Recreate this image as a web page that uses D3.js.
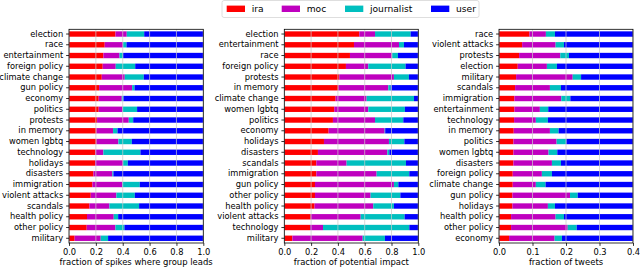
<!DOCTYPE html>
<html>
<head>
<meta charset="utf-8">
<script src="https://cdn.jsdelivr.net/npm/d3@7"></script>
<style>
  body { margin: 0; background: #fff; }
  svg { display: block; font-family: "DejaVu Sans", sans-serif; }
</style>
</head>
<body>
<svg width="640" height="267"></svg>
<script>
const WIDTH = 640;
const HEIGHT = 267;
const TOP = 29.3;
const BOTTOM = 243;
const TICK = 2.9;
const FONT = 8.3;

const groups = ["ira", "moc", "journalist", "user"];
const colors = ["#ff0000", "#bf00bf", "#00bfbf", "#0000ff"];

// panel 1: fraction of spikes where group leads
const leadCats = ["election", "race", "entertainment", "foreign policy", "climate change", "gun policy", "economy", "politics", "protests", "in memory", "women lgbtq", "technology", "holidays", "disasters", "immigration", "violent attacks", "scandals", "health policy", "other policy", "military"];
const leadIra = [0.346, 0.266, 0.256, 0.251, 0.244, 0.224, 0.221, 0.221, 0.209, 0.204, 0.204, 0.197, 0.194, 0.182, 0.174, 0.162, 0.152, 0.134, 0.132, 0.042];
const leadMoc = [0.084, 0.137, 0.120, 0.097, 0.171, 0.246, 0.172, 0.179, 0.236, 0.124, 0.164, 0.059, 0.209, 0.141, 0.224, 0.191, 0.149, 0.199, 0.214, 0.194];
const leadJour = [0.130, 0.025, 0.027, 0.145, 0.142, 0.018, 0.012, 0.107, 0.033, 0.033, 0.100, 0.276, 0.035, 0.008, 0.129, 0.137, 0.221, 0.033, 0.067, 0.055];
const leadUser = [0.440, 0.572, 0.597, 0.507, 0.443, 0.512, 0.595, 0.493, 0.522, 0.639, 0.532, 0.468, 0.562, 0.669, 0.473, 0.510, 0.478, 0.634, 0.587, 0.709];

// panel 2: fraction of potential impact
const impactCats = ["election", "entertainment", "race", "foreign policy", "protests", "in memory", "climate change", "women lgbtq", "politics", "economy", "holidays", "disasters", "scandals", "immigration", "gun policy", "other policy", "health policy", "violent attacks", "technology", "military"];
const impactIra = [0.560, 0.520, 0.490, 0.460, 0.410, 0.403, 0.383, 0.373, 0.363, 0.331, 0.296, 0.251, 0.239, 0.239, 0.229, 0.229, 0.226, 0.197, 0.192, 0.060];
const impactMoc = [0.117, 0.336, 0.316, 0.167, 0.408, 0.373, 0.231, 0.254, 0.314, 0.418, 0.485, 0.518, 0.226, 0.450, 0.589, 0.415, 0.438, 0.373, 0.097, 0.525];
const impactJour = [0.266, 0.037, 0.042, 0.278, 0.112, 0.018, 0.354, 0.273, 0.211, 0.004, 0.115, 0.015, 0.443, 0.244, 0.033, 0.222, 0.154, 0.328, 0.644, 0.166];
const impactUser = [0.057, 0.107, 0.152, 0.095, 0.070, 0.206, 0.032, 0.100, 0.112, 0.247, 0.104, 0.216, 0.092, 0.067, 0.149, 0.134, 0.182, 0.102, 0.067, 0.249];

// panel 3: fraction of tweets
const tweetCats = ["race", "violent attacks", "protests", "election", "military", "scandals", "immigration", "entertainment", "technology", "in memory", "politics", "women lgbtq", "disasters", "foreign policy", "climate change", "gun policy", "holidays", "health policy", "other policy", "economy"];
const tweetIra = [0.091, 0.069, 0.060, 0.056, 0.051, 0.048, 0.046, 0.046, 0.045, 0.044, 0.043, 0.043, 0.043, 0.041, 0.041, 0.040, 0.040, 0.036, 0.036, 0.030];
const tweetMoc = [0.049, 0.100, 0.123, 0.087, 0.169, 0.104, 0.140, 0.076, 0.065, 0.108, 0.129, 0.105, 0.115, 0.087, 0.069, 0.172, 0.106, 0.133, 0.169, 0.136];
const tweetJour = [0.027, 0.025, 0.026, 0.030, 0.025, 0.033, 0.027, 0.025, 0.036, 0.026, 0.029, 0.026, 0.027, 0.030, 0.029, 0.023, 0.021, 0.025, 0.027, 0.022];
const tweetUser = [0.833, 0.806, 0.791, 0.827, 0.755, 0.815, 0.787, 0.853, 0.854, 0.822, 0.799, 0.826, 0.815, 0.842, 0.861, 0.765, 0.833, 0.806, 0.768, 0.812];

const panels = [
  { x0: 69, x1: 203.3, cats: leadCats, series: [leadIra, leadMoc, leadJour, leadUser],
    max: 1.0, ticks: [0, 0.2, 0.4, 0.6, 0.8, 1.0], label: "fraction of spikes where group leads" },
  { x0: 284.3, x1: 418.3, cats: impactCats, series: [impactIra, impactMoc, impactJour, impactUser],
    max: 1.0, ticks: [0, 0.2, 0.4, 0.6, 0.8, 1.0], label: "fraction of potential impact" },
  { x0: 499, x1: 633, cats: tweetCats, series: [tweetIra, tweetMoc, tweetJour, tweetUser],
    max: 0.4, ticks: [0, 0.1, 0.2, 0.3, 0.4], label: "fraction of tweets" }
];

const svg = d3.select("svg");

panels.forEach((p, pi) => {
  const rows = p.cats.map((c, i) => {
    const r = { cat: c };
    groups.forEach((g, gi) => r[g] = p.series[gi][i]);
    return r;
  });
  const stacked = d3.stack().keys(groups)(rows);

  const x = d3.scaleLinear().domain([0, p.max]).range([p.x0, p.x1]);
  const y = d3.scaleBand().domain(p.cats).range([TOP, BOTTOM])
    .paddingInner(0.5).paddingOuter(0.19);

  svg.append("clipPath").attr("id", "clip" + pi)
    .append("rect")
    .attr("x", p.x0).attr("y", TOP)
    .attr("width", p.x1 - p.x0).attr("height", BOTTOM - TOP);

  const g = svg.append("g").attr("clip-path", `url(#clip${pi})`);

  g.selectAll("g.layer")
    .data(stacked)
    .enter()
    .append("g")
    .attr("fill", (d, i) => colors[i])
    .selectAll("rect")
    .data(d => d)
    .enter()
    .append("rect")
    .attr("x", d => x(d[0]))
    .attr("width", d => Math.max(0, x(d[1]) - x(d[0])))
    .attr("y", d => y(d.data.cat))
    .attr("height", y.bandwidth());

  // grid on top of bars
  g.selectAll("line.grid")
    .data(p.ticks)
    .enter()
    .append("line")
    .attr("x1", d => x(d)).attr("x2", d => x(d))
    .attr("y1", TOP).attr("y2", BOTTOM)
    .attr("stroke", "#c8c8c8")
    .attr("stroke-opacity", 0.8)
    .attr("stroke-width", 0.9);

  const axisY = svg.append("g")
    .attr("transform", `translate(${p.x0},0)`)
    .call(d3.axisLeft(y).tickSize(TICK).tickPadding(TICK).tickSizeOuter(0));
  const axisX = svg.append("g")
    .attr("transform", `translate(0,${BOTTOM})`)
    .call(d3.axisBottom(x).tickValues(p.ticks).tickFormat(d3.format(".1f"))
      .tickSize(TICK).tickPadding(TICK).tickSizeOuter(0));

  [axisX, axisY].forEach(a => {
    a.select(".domain").remove();
    a.selectAll("line").attr("stroke-width", 0.8);
    a.selectAll("text").attr("font-size", FONT).attr("fill", "#000")
      .attr("font-family", "DejaVu Sans, sans-serif");
  });

  svg.append("rect")
    .attr("x", p.x0).attr("y", TOP)
    .attr("width", p.x1 - p.x0).attr("height", BOTTOM - TOP)
    .attr("fill", "none").attr("stroke", "#000").attr("stroke-width", 0.8);

  svg.append("text")
    .attr("x", (p.x0 + p.x1) / 2).attr("y", 265.2)
    .attr("text-anchor", "middle")
    .attr("font-size", 8.45)
    .text(p.label);
});

// legend
const legend = svg.append("g").attr("id", "legend");
legend.append("rect")
  .attr("x", 222).attr("y", 0.5)
  .attr("width", 257).attr("height", 17)
  .attr("rx", 2)
  .attr("fill", "#fff").attr("stroke", "#d6d6d6").attr("stroke-width", 0.8);
const legendX = [226.7, 281.7, 345, 431];
groups.forEach((name, i) => {
  const item = legend.append("g").attr("transform", `translate(${legendX[i]},0)`);
  item.append("rect")
    .attr("x", 0).attr("y", 5.6)
    .attr("width", 18.3).attr("height", 6.4)
    .attr("fill", colors[i]);
  item.append("text")
    .attr("x", 25).attr("y", 12.2)
    .attr("font-size", 9.15)
    .text(name);
});
</script>
</body>
</html>
